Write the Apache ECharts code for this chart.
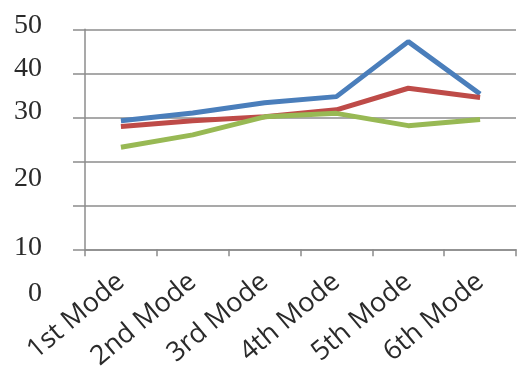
<!DOCTYPE html>
<html>
<head>
<meta charset="utf-8">
<script src="https://cdn.jsdelivr.net/npm/echarts@6/dist/echarts.min.js"></script>
<style>html,body{margin:0;padding:0;background:#fff;}#c{width:517px;height:370px;}</style>
</head>
<body>
<div id="c"></div>
<script>
const categories = ['1st Mode', '2nd Mode', '3rd Mode', '4th Mode', '5th Mode', '6th Mode'];
const seriesBlue = [29.2, 31.0, 33.3, 34.7, 47.2, 35.3];
const seriesRed = [27.9, 29.2, 30.1, 31.7, 36.6, 34.5];
const seriesGreen = [23.2, 26.0, 30.1, 30.9, 28.1, 29.5];
const yTicks = [0, 10, 20, 30, 40, 50];

// vertical shift of each y tick label as printed in the source (px, + = down)
const labelShift = {0: 44, 10: 42, 20: 17, 30: -6, 40: -5, 50: -4};
const rich = {};
yTicks.forEach(v => {
  const s = labelShift[v];
  rich['v' + v] = {
    fontFamily: 'Liberation Serif', fontSize: 28, color: '#2a2a2a',
    padding: s >= 0 ? [2 * s, 0, 0, 0] : [0, 0, -2 * s, 0]
  };
});

const chart = echarts.init(document.getElementById('c'));
chart.setOption({
  animation: false,
  grid: {left: 85, right: 1, top: 29.3, bottom: 120.7, containLabel: false, outerBoundsMode: 'none'},
  xAxis: {
    type: 'category', data: categories, boundaryGap: true,
    axisLine: {lineStyle: {color: '#8c8c8c', width: 1.5}},
    axisTick: {show: true, length: 7, lineStyle: {color: '#8c8c8c', width: 1.5}},
    axisLabel: {rotate: 40, margin: 29, fontFamily: 'Open Sans', fontSize: 27, color: '#2a2a2a', interval: 0}
  },
  yAxis: {
    type: 'value', min: 0, max: 50, interval: 10,
    axisLine: {show: true, lineStyle: {color: '#8c8c8c', width: 1.5}},
    axisTick: {show: true, length: 12, lineStyle: {color: '#8c8c8c', width: 1.5}},
    splitLine: {lineStyle: {color: '#8c8c8c', width: 1.5}},
    axisLabel: {
      margin: 43, align: 'right',
      formatter: v => '{v' + v + '|' + v + '}',
      rich: rich
    }
  },
  series: [
    {type: 'line', data: seriesBlue, symbol: 'none', lineStyle: {color: '#4a7ebb', width: 5}},
    {type: 'line', data: seriesRed, symbol: 'none', lineStyle: {color: '#be4b48', width: 5}},
    {type: 'line', data: seriesGreen, symbol: 'none', lineStyle: {color: '#98b954', width: 5}}
  ]
});
</script>
</body>
</html>
